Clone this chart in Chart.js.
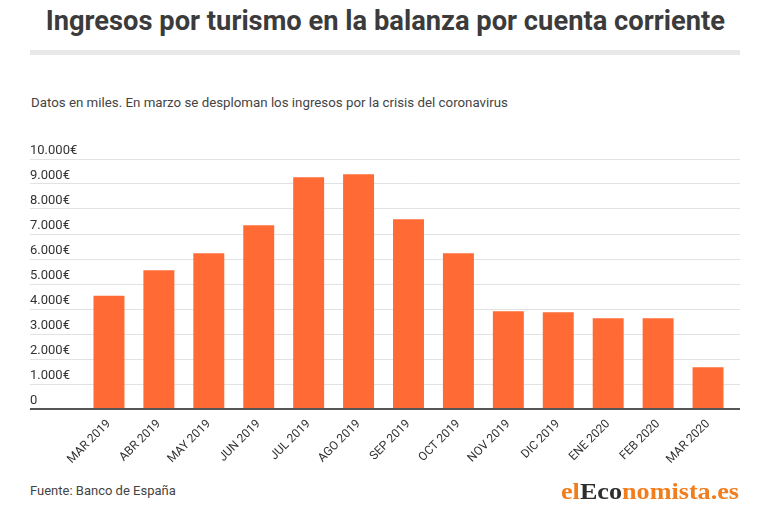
<!DOCTYPE html>
<html lang="es">
<head>
<meta charset="utf-8">
<title>Ingresos por turismo</title>
<script src="https://cdn.jsdelivr.net/npm/chart.js@4.4.0/dist/chart.umd.min.js"></script>
<style>
  html, body { margin: 0; padding: 0; background: #fff; }
  body { width: 770px; height: 509px; position: relative; overflow: hidden; font-family: Roboto, "Noto Sans", sans-serif; color: #333; }
  #titulo { position: absolute; left: 0; width: 770px; top: 4px; text-align: center; font-size: 28px; font-weight: 700; color: #3b3b3b; white-space: nowrap; }
  #titulo span { display: inline-block; transform: scaleX(0.975); transform-origin: center; }
  #barra { position: absolute; left: 30px; width: 710px; top: 50px; height: 5px; background: #e8e8e8; }
  #subtitulo { position: absolute; left: 31px; top: 95px; font-size: 13.3px; color: #444; white-space: nowrap; }
  #grafico { position: absolute; left: 0; top: 140px; width: 770px; height: 339px; }
  #fuente { position: absolute; left: 30px; top: 483px; font-size: 13px; color: #444; }
  #logo { position: absolute; left: 561px; top: 478px; font-family: "Liberation Serif", "DejaVu Serif", serif; font-weight: 700; font-size: 24px; white-space: nowrap; transform: scaleX(1.09); transform-origin: left; }
  #logo .n { color: #f07d1e; }
  #logo .o { color: #2e2e2e; }
</style>
</head>
<body>
<div id="titulo"><span>Ingresos por turismo en la balanza por cuenta corriente</span></div>
<div id="barra"></div>
<div id="subtitulo">Datos en miles. En marzo se desploman los ingresos por la crisis del coronavirus</div>
<div id="grafico"><canvas id="chartTurismo"></canvas></div>
<div id="fuente">Fuente: Banco de España</div>
<div id="logo"><span class="n">el</span><span class="o">Eco</span><span class="n">nomista.es</span></div>

<script>
const meses = ["MAR 2019", "ABR 2019", "MAY 2019", "JUN 2019", "JUL 2019", "AGO 2019", "SEP 2019",
  "OCT 2019", "NOV 2019", "DIC 2019", "ENE 2020", "FEB 2020", "MAR 2020"];
const ingresos = [4530, 5550, 6230, 7350, 9270, 9390, 7590, 6230, 3910, 3870, 3630, 3630, 1670];

const ejeMin = 0;
const ejeMax = 10000;
const ejePaso = 1000;

const ctx = document.getElementById("chartTurismo").getContext("2d");

function formatoEuro(valor) {
  if (valor === 0) return "0";
  return valor.toLocaleString("de-DE") + "€";
}

const colorRejilla = c => (c.tick && c.tick.value === 0 ? "#555555" : "#e2e2e2");
const anchoRejilla = c => (c.tick && c.tick.value === 0 ? 2 : 1);

new Chart(ctx, {
  type: "bar",
  data: {
    labels: meses,
    datasets: [{
      data: ingresos,
      backgroundColor: "#ff6a35",
      categoryPercentage: 1,
      barPercentage: 0.62,
      yAxisID: "y"
    }]
  },
  options: {
    responsive: true,
    maintainAspectRatio: false,
    animation: false,
    layout: { padding: { left: 30, right: 30, top: 19, bottom: 0 } },
    plugins: {
      legend: { display: false },
      tooltip: { enabled: false }
    },
    scales: {
      x: {
        grid: { display: false, drawTicks: false },
        border: { display: false },
        ticks: {
          minRotation: 45,
          maxRotation: 45,
          padding: 8,
          color: "#333",
          font: { family: "Roboto", size: 12 }
        },
        afterFit: eje => { eje.height = 70; }
      },
      y: {
        position: "left",
        min: ejeMin,
        max: ejeMax,
        border: { display: false },
        grid: {
          color: colorRejilla,
          lineWidth: anchoRejilla,
          drawTicks: true,
          tickLength: 54
        },
        ticks: {
          stepSize: ejePaso,
          crossAlign: "far",
          labelOffset: -8,
          padding: 0,
          color: "#333",
          font: { family: "Roboto", size: 13 },
          callback: v => formatoEuro(v)
        },
        afterFit: eje => { eje.width = 54; }
      },
      y2: {
        position: "right",
        min: ejeMin,
        max: ejeMax,
        border: { display: false },
        grid: {
          color: colorRejilla,
          lineWidth: anchoRejilla,
          drawOnChartArea: false,
          drawTicks: true,
          tickLength: 7
        },
        ticks: { stepSize: ejePaso, display: false },
        afterFit: eje => { eje.width = 7; }
      }
    }
  }
});
</script>
</body>
</html>
